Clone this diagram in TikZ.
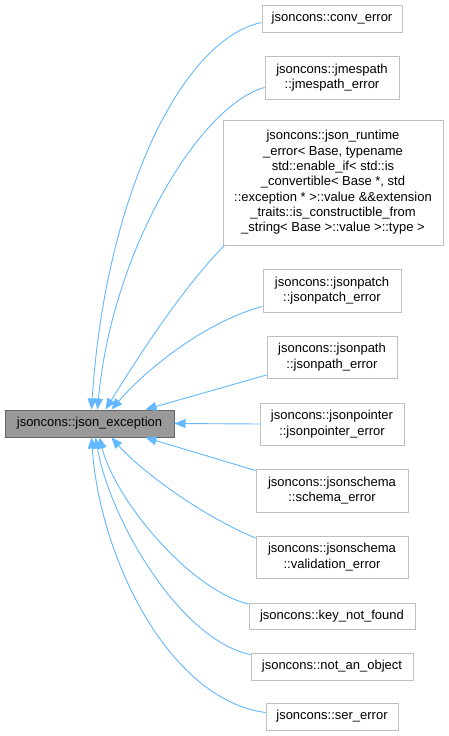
\documentclass[tikz,border=0pt]{standalone}
\usepackage{fontspec}
\setmainfont{Liberation Sans}
\usetikzlibrary{arrows.meta}
\definecolor{edgeblue}{HTML}{63B8FF}
\definecolor{boxgray}{HTML}{BFBFBF}
\definecolor{mainfill}{HTML}{999999}
\definecolor{mainline}{HTML}{666666}
\begin{document}
\begin{tikzpicture}[x=1pt,y=-1pt,
  cls/.style={draw=boxgray, line width=1pt, fill=white, inner sep=0pt, align=center,
    font=\fontsize{13}{15.3}\selectfont},
  mainbox/.style={draw=mainline, line width=1pt, fill=mainfill, inner sep=0pt, align=center,
    font=\fontsize{13}{15.3}\selectfont, minimum width=169pt, minimum height=27pt},
  edge/.style={draw=edgeblue, line width=0.9pt, -{Triangle[length=11pt,width=9pt,fill=edgeblue]}}]
\useasboundingbox (0,0) rectangle (448,736);
\fill[white] (0,0) rectangle (448,736);

\node[mainbox] (main) at (89.5,423.5) {jsoncons::json\_exception};

\node[cls, minimum width=140pt, minimum height=27pt] (conv) at (332,18.5) {jsoncons::conv\_error};
\node[cls, minimum width=134pt, minimum height=43pt] (jmes) at (332,77.5) {jsoncons::jmespath\\::jmespath\_error};
\node[cls, minimum width=220pt, minimum height=125pt] (rt) at (333,182.5) {jsoncons::json\_runtime\\\_error< Base, typename\\ std::enable\_if< std::is\\\_convertible< Base *, std\\::exception * >::value \&\&extension\\\_traits::is\_constructible\_from\\\_string< Base >::value >::type >};
\node[cls, minimum width=138pt, minimum height=43pt] (patch) at (332,290.5) {jsoncons::jsonpatch\\::jsonpatch\_error};
\node[cls, minimum width=130pt, minimum height=42pt] (path) at (332,357) {jsoncons::jsonpath\\::jsonpath\_error};
\node[cls, minimum width=144pt, minimum height=42pt] (ptr) at (332,424) {jsoncons::jsonpointer\\::jsonpointer\_error};
\node[cls, minimum width=152pt, minimum height=43pt] (schema) at (332,490.5) {jsoncons::jsonschema\\::schema\_error};
\node[cls, minimum width=152pt, minimum height=42pt] (valid) at (332,557) {jsoncons::jsonschema\\::validation\_error};
\node[cls, minimum width=166pt, minimum height=26pt] (key) at (332,616) {jsoncons::key\_not\_found};
\node[cls, minimum width=162pt, minimum height=27pt] (notobj) at (332,666.5) {jsoncons::not\_an\_object};
\node[cls, minimum width=132pt, minimum height=27pt] (ser) at (332,716.5) {jsoncons::ser\_error};

% edges (arrow tips at main)
\draw[edge] ([yshift=-4pt]conv.west) .. controls (180,40) and (105,200) .. ([xshift=87pt]main.north west);
\draw[edge] ([yshift=-10pt]jmes.west) .. controls (200,105) and (112,250) .. ([xshift=93pt]main.north west);
\draw[edge] ([xshift=2pt]rt.south west) .. controls (180,290) and (130,370) .. ([xshift=101pt]main.north west);
\draw[edge] ([yshift=-16pt]patch.west) .. controls (210,320) and (150,365) .. ([xshift=107pt]main.north west);
\draw[edge] ([yshift=-18pt]path.west) -- ([xshift=141pt]main.north west);
\draw[edge] (ptr.west) -- (main.east);
\draw[edge] ([yshift=20pt]schema.west) -- ([xshift=141pt]main.south west);
\draw[edge] ([yshift=19pt]valid.west) .. controls (200,515) and (140,470) .. ([xshift=107pt]main.south west);
\draw[edge] ([yshift=12pt]key.west) .. controls (190,590) and (115,500) .. ([xshift=95pt]main.south west);
\draw[edge] ([yshift=12pt]notobj.west) .. controls (180,640) and (110,520) .. ([xshift=91pt]main.south west);
\draw[edge] ([yshift=4pt]ser.west) .. controls (170,700) and (100,560) .. ([xshift=87pt]main.south west);
\end{tikzpicture}
\end{document}
